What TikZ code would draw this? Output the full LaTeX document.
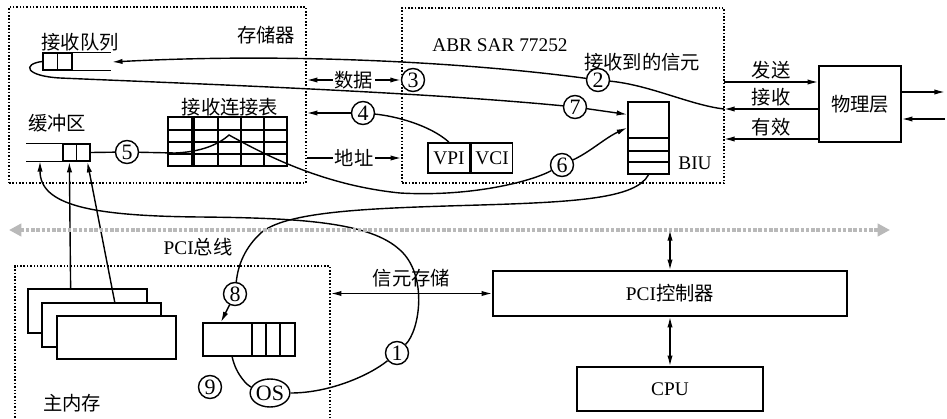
\documentclass[tikz,border=0pt]{standalone}
\usepackage{fontspec}
\setmainfont{Liberation Serif}
\newfontfamily\cjk{Noto Sans CJK SC}
\usetikzlibrary{positioning,calc,arrows.meta,shapes.geometric}

\newcommand{\zh}[1]{{\cjk #1}}

\tikzset{
  every node/.style={font=\fontsize{11}{13}\selectfont},
  area/.style={draw, densely dotted, line width=0.9pt, inner sep=0pt},
  box/.style={draw, line width=0.9pt, inner sep=0pt, fill=white},
  num/.style={draw, circle, thick, inner sep=0pt, minimum size=0.46cm, fill=white,
    font=\fontsize{12.5}{14}\selectfont},
  link/.style={thick},
  bus/.style={draw=gray!55, line width=2pt, densely dotted,
    {Triangle[length=7pt,width=7pt]}-{Triangle[length=7pt,width=7pt]}},
  >={Latex[length=6pt,width=3pt]},
}

\begin{document}
\begin{tikzpicture}[x=0.02cm, y=-0.02cm]
\useasboundingbox (0,0) rectangle (947,419);

		% areas
		\node (mem) at (157.5,95) [area, minimum width=5.94cm, minimum height=3.52cm] {};
		\node (sar) at (563,95.5) [area, minimum width=6.44cm, minimum height=3.5cm] {};
		\node (mm) at (172.5,345) [area, minimum width=6.3cm, minimum height=3.16cm] {};

		\node (memT) at (266,35) {\zh{存储器}};
		\node (rqT) at (80,42) {\zh{接收队列}};
		\node (bufT) at (57,123) {\zh{缓冲区}};
		\node (tblT) at (230,107) {\zh{接收连接表}};
		\node (sarT) at (500,45) {ABR SAR 77252};
		\node (cellT) at (642,62) {\zh{接收到的信元}};
		\node (biuT) at (695,163) {BIU};
		\node (busT) at (198,247) {PCI\zh{总线}};
		\node (mmT) at (72,403) {\zh{主内存}};

		% queues
		\node (rq) at (57.5,61.5) [box, minimum width=0.58cm, minimum height=0.34cm] {};
		\draw [thick] (rq.north) -- (rq.south);
		\draw [thick] (rq.north east) -- ++(38,0);
		\draw [thick] (rq.south east) -- ++(38,0);

		\node (buf) at (76.5,152.5) [box, minimum width=0.54cm, minimum height=0.34cm] {};
		\draw [thick] (buf.north) -- (buf.south);
		\draw [thick] (buf.north west) -- ++(-36,0);
		\draw [thick] (buf.south west) -- ++(-36,0);

		\node (tbl) at (227.5,141.5) [box, minimum width=2.38cm, minimum height=0.98cm] {};
		\foreach \x in {218,241,264} \draw [thick] (\x,117) -- (\x,166);
		\draw [line width=2pt] (193,117) -- (193,166);
		\foreach \y in {130,142,154} \draw [thick] (168,\y) -- (287,\y);

		\node (vpi) at (449,158) [box, minimum width=0.84cm, minimum height=0.6cm] {VPI};
		\node (vci) [box, right=0pt of vpi, minimum width=0.82cm, minimum height=0.6cm] {VCI};

		\node (biu) at (648.5,138) [box, minimum width=0.82cm, minimum height=1.44cm] {};
		\foreach \y in {138,151,162} \draw [thick] (628,\y) -- (669,\y);

		\node (phy) at (860,104) [box, minimum width=1.64cm, minimum height=1.52cm] {\zh{物理层}};
		\node (pcc) at (670,293.5) [box, minimum width=7.08cm, minimum height=0.9cm] {PCI\zh{控制器}};
		\node (cpu) at (670,389) [box, minimum width=3.72cm, minimum height=0.88cm] {CPU};

		\node (pg1) at (87.5,311) [box, minimum width=2.38cm, minimum height=0.88cm] {};
		\node (pg2) at (101.5,325) [box, minimum width=2.38cm, minimum height=0.88cm] {};
		\node (pg3) at (116.5,337.5) [box, minimum width=2.38cm, minimum height=0.86cm] {};

		\node (mq) at (249,339.5) [box, minimum width=1.84cm, minimum height=0.66cm] {};
		\foreach \x in {252,266,280} \draw [thick] (\x,323) -- (\x,356);

		% numbered steps
		\node (n1) at (397,353) [num] {1};
		\node (n2) at (598,80) [num] {2};
		\node (n3) at (413,80) [num] {3};
		\node (n4) at (363,113) [num] {4};
		\node (n5) at (127,152) [num] {5};
		\node (n6) at (562,165) [num] {6};
		\node (n7) at (575,107) [num] {7};
		\node (n8) at (235,294) [num] {8};
		\node (n9) at (210,387) [num] {9};
		\node (os) at (270,393) [num, ellipse, minimum width=0.74cm, minimum height=0.56cm] {OS};

		\coordinate (tx) at (724,82);
		\coordinate (rx) at (724,109);
		\coordinate (vd) at (724,139);
		\coordinate (outR) at (945,92);
		\coordinate (inR) at (945,119);
		\coordinate (busL) at (9,230);
		\coordinate (busR) at (890,230);
		\coordinate (rqin) at (112,62);
		\coordinate (bufL) at (40,161);
		\coordinate (bufM) at ($(buf.south west)!0.25!(buf.south east)$);
		\coordinate (bufR) at ($(buf.south west)!0.88!(buf.south east)$);
		\coordinate (pg1T) at ($(pg1.north west)!0.36!(pg1.north east)$);
		\coordinate (pg2T) at ($(pg2.north west)!0.61!(pg2.north east)$);
		\coordinate (b7) at ($(biu.north west)!0.18!(biu.south west)$);
		\coordinate (b6) at ($(biu.north west)!0.36!(biu.south west)$);
		\coordinate (q8) at ($(mq.north west)!0.2!(mq.north east)$);
		\coordinate (qos) at ($(mq.south west)!0.32!(mq.south east)$);
		\coordinate (pk) at (229,135);
		\coordinate (lo) at (400,193);

		% physical layer
		\draw [->, link] (tx) -- node[above, inner sep=1pt] (txT) {\zh{发送}} (tx -| phy.west);
		\draw [->, link] (rx -| phy.west) -- node[above, inner sep=1pt] (rxT) {\zh{接收}} (rx);
		\draw [->, link] (vd -| phy.west) -- node[above, inner sep=1pt] (vdT) {\zh{有效}} (vd);
		\draw [->, link] (phy.east |- outR) -- (outR);
		\draw [->, link] (inR) -- (phy.east |- inR);

		% received cell into queue
		\draw [link] (rx) .. controls (690,105) and (650,85) .. (n2);
		\draw [->, link] (n2) .. controls (480,64) and (300,52) .. (rqin);

		\draw [<->, link] (mem.east |- n3) -- node[fill=white, inner sep=1pt] (dataT) {\zh{数据}} (n3);
		\draw [->, link] (mem.east |- vpi) -- node[fill=white, inner sep=1pt] (addrT) {\zh{地址}} (sar.west |- vpi);

		\draw [link] (vpi.north) .. controls (430,125) and (395,116) .. (n4);
		\draw [->, link] (n4) -- (mem.east |- n4);

		\draw [link] (rq.west) .. controls (22,64) and (25,76) .. (60,78)
			.. controls (200,84) and (420,92) .. (n7);
		\draw [->, link] (n7) -- (b7);

		\draw [link] (buf.east) -- (n5);
		\draw [link] (n5) -- (175,153) .. controls (200,152) and (218,145) .. (pk)
			.. controls (260,152) and (320,185) .. (lo)
			.. controls (470,197) and (530,182) .. (n6);
		\draw [->, link] (n6) .. controls (590,152) and (605,138) .. (b6);

		% host side
		\draw [link] (os.east) .. controls (330,393) and (370,375) .. (n1);
		\draw [->, link] (n1) .. controls (420,330) and (428,275) .. (400,250)
			.. controls (370,222) and (300,218) .. (200,217)
			.. controls (90,216) and (40,205) .. (bufL);

		\draw [link] (biu.south) .. controls (636,198) and (580,202) .. (480,205)
			.. controls (380,208) and (290,210) .. (262,232)
			.. controls (245,247) and (238,265) .. (n8);
		\draw [->, link] (n8) -- (q8);
		\draw [link] (qos) .. controls (236,375) and (248,386) .. (os);

		\draw [->, link] (pg1T) -- (bufM);
		\draw [->, link] (pg2T) -- (bufR);

		% PCI bus
		\draw [bus] (busL) -- (busR);
		\draw [<->, link] (pcc.north |- busR) -- (pcc.north);
		\draw [<->, link] (pcc.south) -- (cpu.north);
		\draw [<->, link] (mm.east |- pcc) -- node[above] (storeT) {\zh{信元存储}} (pcc.west);

\end{tikzpicture}
\end{document}
